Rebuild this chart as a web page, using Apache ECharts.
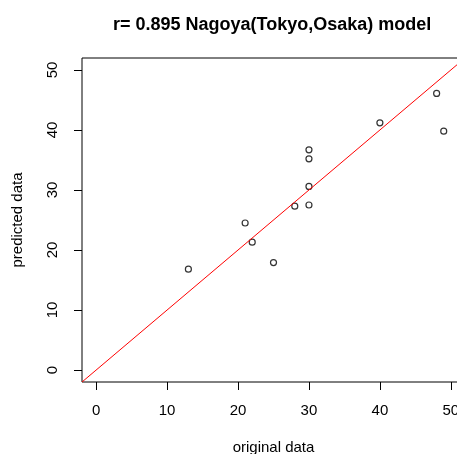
<!DOCTYPE html>
<html>
<head>
<meta charset="utf-8">
<script src="https://cdn.jsdelivr.net/npm/echarts@6/dist/echarts.min.js"></script>
<style>
  html, body { margin: 0; padding: 0; background: #fff; }
  #chart { width: 457px; height: 454px; }
</style>
</head>
<body>
<div id="chart"></div>
<script>
// Observed vs. predicted values
const originalData  = [13, 21, 22, 25, 28, 30, 30, 30, 30, 40, 48, 49];
const predictedData = [16.8, 24.5, 21.3, 17.9, 27.3, 27.5, 30.6, 35.2, 36.7, 41.2, 46.1, 39.8];
const tickValues = [0, 10, 20, 30, 40, 50];

// Reference line y = a + b*x
const refIntercept = 0;
const refSlope = 1;

// Axis limits (0..50 with a 4% margin on each side)
const axisMin = -2;
const axisMax = 52;

const FONT = "'Liberation Sans', Arial, sans-serif";

const points = originalData.map((x, i) => [x, predictedData[i]]);
const refLine = [axisMin, axisMax].map(x => [x, refIntercept + refSlope * x]);

const chart = echarts.init(document.getElementById('chart'), null, { renderer: 'canvas' });

chart.setOption({
  backgroundColor: '#ffffff',
  animation: false,
  title: {
    text: 'r= 0.895 Nagoya(Tokyo,Osaka) model',
    left: 108,
    top: 11,
    textStyle: { fontFamily: FONT, fontSize: 18, fontWeight: 'bold', color: '#000' }
  },
  grid: {
    left: 82, top: 58, width: 383, height: 324,
    outerBoundsMode: 'none',
    containLabel: false,
    show: true, borderColor: '#000', borderWidth: 1, backgroundColor: 'transparent'
  },
  xAxis: {
    type: 'value',
    min: axisMin, max: axisMax,
    name: 'original data',
    nameLocation: 'middle',
    nameGap: 58,
    nameTextStyle: { fontFamily: FONT, fontSize: 15, color: '#000' },
    splitLine: { show: false },
    axisLine: { show: false, onZero: false },
    axisTick: { show: true, inside: false, length: 8, customValues: tickValues, lineStyle: { color: '#000', width: 1 } },
    axisLabel: { customValues: tickValues, margin: 21, fontFamily: FONT, fontSize: 15, color: '#000' }
  },
  yAxis: {
    type: 'value',
    min: axisMin, max: axisMax,
    name: 'predicted data',
    nameLocation: 'middle',
    nameGap: 57,
    nameTextStyle: { fontFamily: FONT, fontSize: 15, color: '#000' },
    splitLine: { show: false },
    axisLine: { show: false, onZero: false },
    axisTick: { show: true, inside: false, length: 8, customValues: tickValues, lineStyle: { color: '#000', width: 1 } },
    axisLabel: { customValues: tickValues, rotate: 90, margin: 22, fontFamily: FONT, fontSize: 15, color: '#000' }
  },
  series: [
    {
      type: 'scatter',
      data: points,
      symbol: 'circle',
      symbolSize: 6,
      itemStyle: { color: 'transparent', borderColor: '#000', borderWidth: 1.2 },
      z: 2
    },
    {
      type: 'line',
      data: refLine,
      symbol: 'none',
      lineStyle: { color: '#ff0000', width: 1 },
      z: 3
    }
  ]
});
</script>
</body>
</html>
